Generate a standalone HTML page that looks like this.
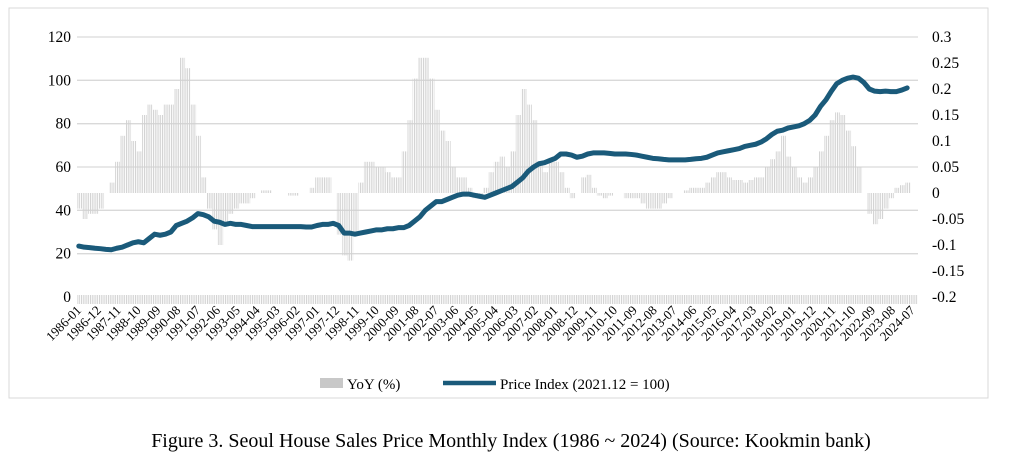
<!DOCTYPE html>
<html><head><meta charset="utf-8"><style>
body{margin:0;background:#fff;width:1030px;height:468px;overflow:hidden;font-family:"Liberation Serif",serif}
svg{display:block}
</style></head><body>
<svg id="c" width="1030" height="468">
<defs><pattern id="hatch" patternUnits="userSpaceOnUse" width="1.8" height="4"><rect x="0" y="0" width="0.9" height="4" fill="#d0d0d0"/></pattern></defs>
<rect x="9" y="8" width="979" height="390" fill="none" stroke="#d9d9d9"/>
<g id="grid"></g><g id="bars"></g><g id="line"></g><g id="axes"></g>
<g>
<rect x="320" y="378" width="23" height="10" fill="#c8c8c8"/>
<text x="347" y="389" font-size="15">YoY (%)</text>
<line x1="443" y1="383" x2="496" y2="383" stroke="#1a5a7a" stroke-width="4.5"/>
<text x="500" y="389" font-size="15">Price Index (2021.12 = 100)</text>
</g>
<text x="511" y="447" font-size="20" text-anchor="middle">Figure 3. Seoul House Sales Price Monthly Index (1986 ~ 2024) (Source: Kookmin bank)</text>
</svg>
<script>
const priceIdx=[23.5,23,22.8,22.5,22.3,22,21.8,22.5,23,24,25,25.5,25,27,29,28.5,29,30,33,34,35,36.5,38.5,38,37,35,34.5,33.5,34,33.5,33.5,33,32.5,32.5,32.5,32.5,32.5,32.5,32.5,32.5,32.5,32.5,32.3,32.3,33,33.5,33.5,34,33,29.5,29.5,29,29.5,30,30.5,31,31,31.5,31.5,32,32,33,35,37,40,42,44,44,45,46,47,47.5,47.5,47,46.5,46,47,48,49,50,51,53,55,58,60,61.5,62,63,64,66,66,65.5,64.5,65,66,66.5,66.5,66.5,66.3,66,66,66,65.8,65.5,65,64.5,64,63.8,63.5,63.3,63.3,63.3,63.3,63.5,63.8,64,64.5,65.5,66.5,67,67.5,68,68.5,69.5,70,70.5,71.5,73,75,76.5,77,78,78.5,79,80,81.5,84,88,91,95,98.5,100,101,101.5,101,99,96,95,94.8,95,94.8,94.8,95.5,96.5];
const yoy=[-0.03,-0.05,-0.04,-0.04,-0.03,0.0,0.02,0.06,0.11,0.14,0.10,0.08,0.15,0.17,0.16,0.15,0.17,0.17,0.2,0.26,0.24,0.17,0.11,0.03,-0.03,-0.07,-0.1,-0.06,-0.04,-0.03,-0.02,-0.02,-0.01,0,0.005,0.005,0,0,0,-0.005,-0.005,0,0,0.01,0.03,0.03,0.03,0,-0.08,-0.12,-0.13,-0.08,0.02,0.06,0.06,0.05,0.05,0.04,0.03,0.03,0.08,0.14,0.22,0.26,0.26,0.22,0.16,0.12,0.1,0.05,0.03,0.03,0.01,-0.01,-0.01,0.01,0.04,0.06,0.07,0.05,0.08,0.15,0.2,0.17,0.14,0.06,0.04,0.06,0.06,0.04,0.01,-0.01,0.0,0.03,0.035,0.01,-0.005,-0.01,-0.005,0.0,0.0,-0.01,-0.01,-0.01,-0.02,-0.03,-0.03,-0.03,-0.02,-0.01,0.0,0.0,0.005,0.01,0.01,0.01,0.02,0.03,0.04,0.04,0.03,0.025,0.025,0.02,0.025,0.03,0.03,0.05,0.065,0.08,0.11,0.07,0.05,0.03,0.02,0.03,0.05,0.08,0.11,0.14,0.155,0.15,0.12,0.09,0.05,0.0,-0.04,-0.06,-0.05,-0.03,-0.01,0.01,0.015,0.02];
const leftTicks=[0,20,40,60,80,100,120];
const rightTicks=[-0.2,-0.15,-0.1,-0.05,0,0.05,0.1,0.15,0.2,0.25,0.3];
const NS="http://www.w3.org/2000/svg";
const X0=77,X1=918,NM=466,YT=37,YB=297;
const xm=i=>X0+i*(X1-X0)/NM;
const yL=v=>YB-v*(YB-YT)/120;
const yR=v=>YB-(v+0.2)*(YB-YT)/0.5;
function mk(tag,at,parent){const e=document.createElementNS(NS,tag);for(const k in at)e.setAttribute(k,at[k]);document.getElementById(parent).appendChild(e);return e;}
leftTicks.forEach(v=>{
 if(v>0){const g=mk('line',{x1:X0,x2:X1,y1:yL(v),y2:yL(v),stroke:'#d9d9d9','stroke-width':1.3},'grid');
 
 }
 const t=mk('text',{x:71,y:yL(v)+5,'font-size':15.5,'text-anchor':'end'},'axes');t.textContent=v;
 
 
});
rightTicks.forEach(v=>{
 const t=mk('text',{x:932,y:yR(v)+5,'font-size':15.5},'axes');t.textContent=(Math.round(v*100)/100).toString();
 
 
});
const band=mk('rect',{x:X0,y:295,width:X1-X0,height:9,fill:'url(#hatch)'},'bars');


yoy.forEach((v,i)=>{
 const y0=yR(0),y=yR(v);
 const r=mk('rect',{x:xm(i*3),y:Math.min(y0,y),width:xm(3)-xm(0),height:Math.abs(y-y0),fill:'url(#hatch)'},'bars');
 
 
});
const pts=priceIdx.map((v,i)=>xm(i*3+1)+','+yL(v)).join(' ');
const pl=mk('polyline',{points:pts,fill:'none',stroke:'#1a5a7a','stroke-width':5,'stroke-linejoin':'round','stroke-linecap':'round'},'line');


for(let i=0;i<=462;i+=11){
 const y=1986+Math.floor(i/12),m=i%12+1;
 const x=xm(i)+5,yy=311;
 const t=mk('text',{x:x,y:yy,'font-size':13,'text-anchor':'end',transform:`rotate(-45 ${x} ${yy})`},'axes');
 t.textContent=y+'-'+(m<10?'0':'')+m;
 
 
}
</script>
</body></html>
